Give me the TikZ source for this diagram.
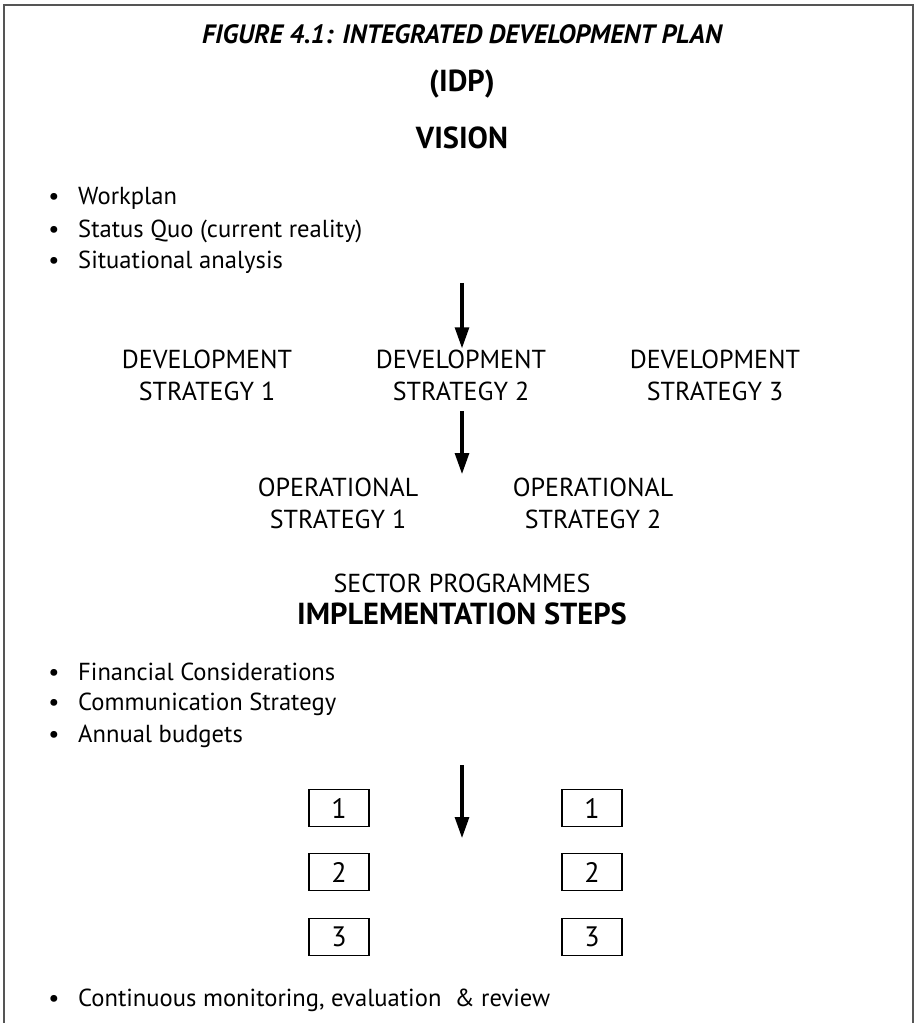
\documentclass[tikz,border=0pt]{standalone}
\usepackage{fontspec}
\setmainfont{PT Sans}
\usetikzlibrary{positioning, arrows.meta}
\definecolor{framegray}{RGB}{85, 85, 85}
\newcommand{\bodysize}{\fontsize{14pt}{18.2pt}\selectfont}
\newcommand{\capsize}{\fontsize{14.8pt}{18.2pt}\selectfont}
\newcommand{\headsize}{\fontsize{17.3pt}{20pt}\selectfont}
\newcommand{\titlesize}{\fontsize{15.1pt}{17pt}\selectfont}
\tikzset{
  % plain centred label
  lbl/.style={font=\capsize, align=center, inner sep=0pt},
  % bold headings
  head/.style={font=\headsize\bfseries, align=center, inner sep=0pt},
  % bullet line
  item/.style={font=\bodysize, anchor=west, inner sep=0pt},
  % numbered step box
  numbox/.style={
    draw, line width=0.85pt,
    minimum width=1.2cm, minimum height=0.74cm,
    font=\fontsize{16pt}{18pt}\selectfont, inner sep=0pt
  },
  % down arrow
  arr/.style={-{Triangle[length=12.5pt, width=7.5pt]}, line width=2.8pt},
  frame/.style={draw=framegray, line width=1.2pt},
}
\newcommand{\bul}{\makebox[17pt][l]{\textbullet}}

\begin{document}
\begin{tikzpicture}[x=0.02cm, y=-0.02cm]
  \useasboundingbox (0,0) rectangle (920,1023);
  \draw[frame] (4,1023) -- (4,5) -- (913,5) -- (913,1023);

  % headings
  \node[head, font=\titlesize\bfseries\itshape] (title) at (462,34)
    {FIGURE 4.1: INTEGRATED DEVELOPMENT PLAN};
  \node[head] (idp) at (462,84) {(IDP)};
  \node[head] (vision) at (462,138) {VISION};

  % first bullet list
  \node[item] (wp) at (48,198) {\bul Workplan};
  \node[item] (sq) at (48,231) {\bul Status Quo (current reality)};
  \node[item] (sa) at (48,262) {\bul Situational analysis};

  % strategies
  \node[lbl] (dev1) at (207,375) {DEVELOPMENT\\STRATEGY 1};
  \node[lbl] (dev2) at (461,375) {DEVELOPMENT\\STRATEGY 2};
  \node[lbl] (dev3) at (715,375) {DEVELOPMENT\\STRATEGY 3};
  \node[lbl] (op1) at (338,503) {OPERATIONAL\\STRATEGY 1};
  \node[lbl] (op2) at (593,503) {OPERATIONAL\\STRATEGY 2};

  \node[lbl] (sector) at (462,583) {SECTOR PROGRAMMES};
  \node[head] (impl) at (462,614) {IMPLEMENTATION STEPS};

  % second bullet list
  \node[item] (fin) at (48,672) {\bul Financial Considerations};
  \node[item] (com) at (48,704) {\bul Communication Strategy};
  \node[item] (bud) at (48,736) {\bul Annual budgets};

  % step boxes
  \node[numbox] (l1) at (339,808) {1};
  \node[numbox] (l2) at (339,872) {2};
  \node[numbox] (l3) at (339,937) {3};
  \node[numbox] (r1) at (592,808) {1};
  \node[numbox] (r2) at (592,872) {2};
  \node[numbox] (r3) at (592,937) {3};

  \node[item] (mon) at (48,1000) {\bul Continuous monitoring, evaluation\ \ \& review};

  % arrows
  \coordinate (a1) at (462,283);
  \coordinate (a2s) at (462,411);
  \coordinate (a2) at (462,475);
  \coordinate (a3s) at (462,765);
  \coordinate (a3e) at (462,839);
  \draw[arr] (a1) -- (a1 |- dev2.north);
  \draw[arr] (a2s) -- (a2);
  \draw[arr] (a3s) -- (a3e);
\end{tikzpicture}
\end{document}
